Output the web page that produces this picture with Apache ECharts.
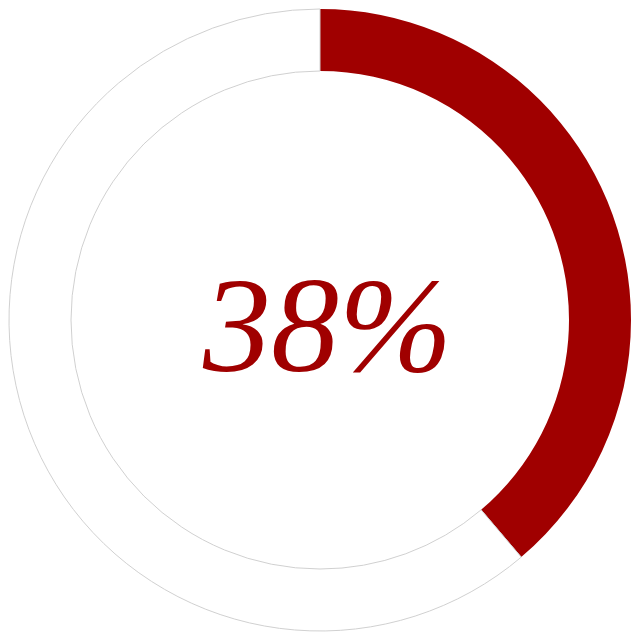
<!DOCTYPE html>
<html>
<head>
<meta charset="utf-8">
<script src="https://cdn.jsdelivr.net/npm/echarts@6/dist/echarts.min.js"></script>
<style>
  html, body { margin: 0; padding: 0; background: #fff; }
  #chart { width: 640px; height: 640px; }
</style>
</head>
<body>
<div id="chart"></div>
<script>
var labels = ['done', 'rest']
var values = [38.8, 61.2]
var centerText = '38%'

var centerFont = 'italic 136px "Liberation Serif"'

function draw () {
  var myChart = echarts.init(document.getElementById('chart'))
  var option = {
    animation: false,
    series: [
      {
        type: 'pie',
        center: [320, 320],
        radius: [249, 311],
        startAngle: 90,
        clockwise: true,
        silent: true,
        label: { show: false },
        labelLine: { show: false },
        data: [
          { name: labels[0], value: values[0], itemStyle: { color: '#a00000' } },
          { name: labels[1], value: values[1], itemStyle: { color: '#ffffff', borderColor: '#d0d0d0', borderWidth: 1 } }
        ]
      }
    ],
    graphic: [
      {
        type: 'text',
        left: 203,
        top: 267,
        z: 100,
        style: {
          text: centerText,
          font: centerFont,
          fill: '#a00000'
        }
      }
    ]
  }
  myChart.setOption(option)
}

// 等字体加载完再画，否则会回退成无衬线
if (document.fonts && document.fonts.load) {
  document.fonts.load(centerFont, centerText).then(draw, draw)
} else {
  draw()
}
</script>
</body>
</html>
